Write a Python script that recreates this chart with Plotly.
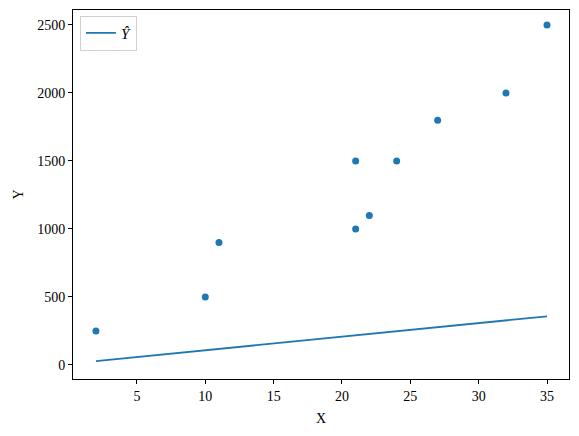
import plotly.graph_objects as go

X = [2, 10, 11, 21, 21, 22, 24, 27, 32, 35]
Y = [250, 500, 900, 1500, 1000, 1100, 1500, 1800, 2000, 2500]
Y_hat = [28, 108, 118, 218, 218, 228, 248, 278, 328, 358]

blue = "#1f77b4"
font = "Liberation Serif"

fig = go.Figure()
fig.add_trace(go.Scatter(x=X, y=Y, mode="markers",
                         marker=dict(color=blue, size=7), showlegend=False))
fig.add_trace(go.Scatter(x=X, y=Y_hat, mode="lines",
                         line=dict(color=blue, width=1.8), name="<i>Ŷ</i>"))

axis_common = dict(showgrid=False, zeroline=False, showline=True, linecolor="black",
                   linewidth=1, mirror=True, ticks="outside", ticklen=4,
                   tickcolor="black", tickwidth=1, automargin=False,
                   tickfont=dict(family=font, size=14, color="black"))

fig.update_xaxes(range=[0.32, 36.61], tickvals=[5, 10, 15, 20, 25, 30, 35],
                 title=dict(text="X", font=dict(family=font, size=14, color="black"), standoff=10),
                 **axis_common)
fig.update_yaxes(range=[-103, 2610], tickvals=[0, 500, 1000, 1500, 2000, 2500],
                 title=dict(text="Y", font=dict(family=font, size=14, color="black"), standoff=10),
                 **axis_common)

fig.update_layout(width=571, height=428, plot_bgcolor="white", paper_bgcolor="white",
                  margin=dict(l=65, r=10, t=2, b=57),
                  legend=dict(x=0.014, y=0.985, xanchor="left", yanchor="top",
                              bordercolor="#d0d0d0", borderwidth=1, bgcolor="white",
                              font=dict(family=font, size=15, color="black")),
                  font=dict(family=font))

fig.write_html("out.html")
